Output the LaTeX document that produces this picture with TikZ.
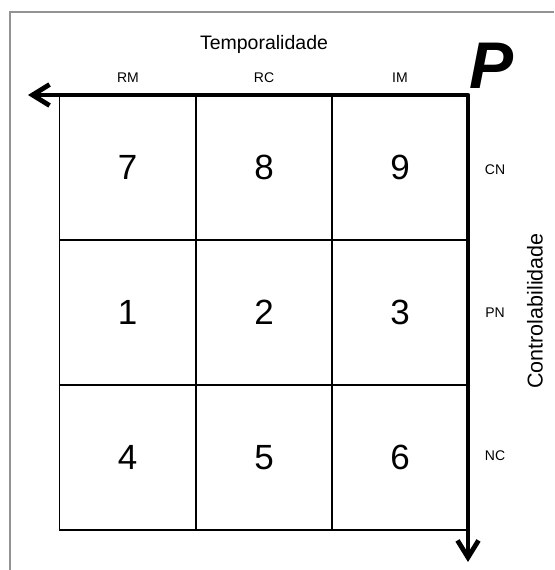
\documentclass[tikz,border=0pt]{standalone}
\usepackage{fontspec}
\setmainfont{Liberation Sans}
\usetikzlibrary{arrows.meta}

\begin{document}
\begin{tikzpicture}[x=1pt, y=-1pt, >={Straight Barb[length=17pt,width=21pt]},
    font=\fontsize{14}{16}\selectfont,
    feld/.style={draw, line width=1.3pt, minimum width=136pt, minimum height=145pt, font=\fontsize{35}{40}\selectfont},
    titel/.style={font=\fontsize{19.5}{22}\selectfont}]
  \useasboundingbox (0,0) rectangle (554,570);
  \draw[gray!85, line width=1.5pt] (10,570) -- (10,12) -- (554,12);
  % Felder
  \node[feld] at (127.5,167.5) (c7) {7};
  \node[feld] at (264,167.5) (c8) {8};
  \node[feld] at (400,167.5) (c9) {9};
  \node[feld] at (127.5,312.5) (c1) {1};
  \node[feld] at (264,312.5) (c2) {2};
  \node[feld] at (400,312.5) (c3) {3};
  \node[feld] at (127.5,457.5) (c4) {4};
  \node[feld] at (264,457.5) (c5) {5};
  \node[feld] at (400,457.5) (c6) {6};
  % Achsen
  \coordinate (ecke) at (468,95);
  \coordinate (links) at (28,95);
  \coordinate (unten) at (468,562);
  \draw[<->, line width=4.8pt, line join=round] (links) -- (ecke) -- (unten);
  \node[font=\fontsize{66}{66}\selectfont\bfseries\itshape] at (492,66) (p) {P};
  \node[titel] at (264,44) (temp) {Temporalidade};
  \node at (128,78) (rm) {RM};
  \node at (264,78) (rc) {RC};
  \node at (400,78) (im) {IM};
  \node at (495,170) (cn) {CN};
  \node at (495,313) (pn) {PN};
  \node at (495,456) (nc) {NC};
  \node[titel, font=\fontsize{21.5}{24}\selectfont, rotate=90] at (535,311) (contr) {Controlabilidade};
\end{tikzpicture}
\end{document}
